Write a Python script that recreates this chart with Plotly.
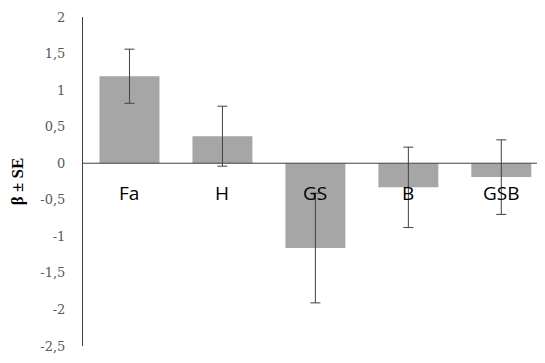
import plotly.graph_objects as go

categories = ["Fa", "H", "GS", "B", "GSB"]
beta = [1.19, 0.37, -1.16, -0.33, -0.19]
se = [0.37, 0.41, 0.75, 0.55, 0.51]
y_ticks = [2, 1.5, 1, 0.5, 0, -0.5, -1, -1.5, -2, -2.5]
y_tick_labels = ["2", "1,5", "1", "0,5", "0", "-0,5", "-1", "-1,5", "-2", "-2,5"]

fig = go.Figure()
fig.add_trace(go.Bar(
    x=list(range(len(categories))), y=beta,
    marker=dict(color="#a6a6a6", line=dict(width=0)),
    error_y=dict(type="data", array=se, visible=True, color="#404040", thickness=1, width=5),
))

for i, c in enumerate(categories):
    fig.add_annotation(x=i, y=0, xref="x", yref="y", text=c, showarrow=False,
                       yanchor="middle", yshift=-30,
                       font=dict(family="Open Sans", size=19, color="#000000"))

fig.add_shape(type="line", xref="paper", yref="y", x0=0, x1=1, y0=0, y1=0,
              line=dict(color="#404040", width=1))

fig.update_layout(
    width=537, height=347,
    margin=dict(l=75, r=0, t=9, b=9),
    plot_bgcolor="white", paper_bgcolor="white",
    showlegend=False, bargap=0.355,
    xaxis=dict(range=[-0.5, 4.47], showticklabels=False, showgrid=False, zeroline=False,
               showline=False, ticks=""),
    yaxis=dict(range=[-2.5, 2], tickvals=y_ticks, ticktext=y_tick_labels,
               showgrid=False, zeroline=False, showline=True, linecolor="#404040", linewidth=1,
               ticks="", ticklabelstandoff=14,
               tickfont=dict(family="DejaVu Serif", size=13, color="#595959"),
               title=dict(text="<b>β ± SE</b>", standoff=13,
                          font=dict(family="Liberation Serif", size=17, color="#000000"))),
)

fig.write_html("out.html")
